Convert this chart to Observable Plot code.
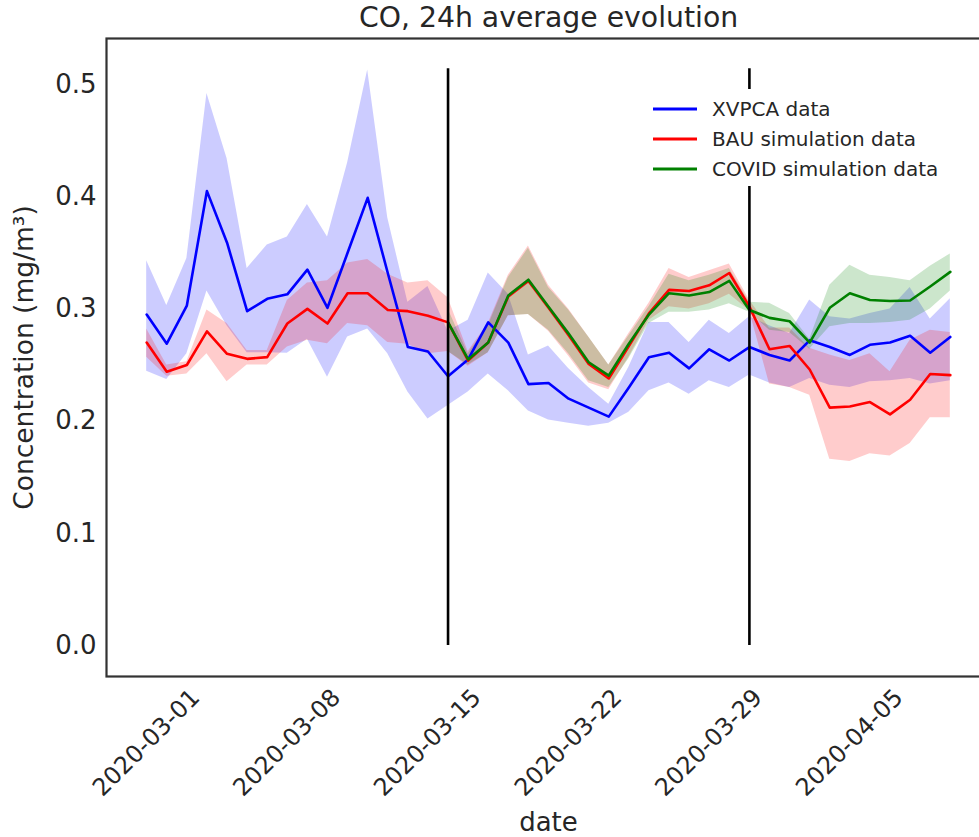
<!DOCTYPE html>
<html><head><meta charset="utf-8">
<script src="https://cdn.jsdelivr.net/npm/d3@7"></script>
<script src="https://cdn.jsdelivr.net/npm/@observablehq/plot@0.6"></script>
<style>
html,body{margin:0;padding:0;background:#fff;overflow:hidden;}
#chart{position:relative;width:979px;height:837px;overflow:hidden;}
</style></head><body><div id="chart"></div>
<script>
const dates = ["2020-03-01","2020-03-02","2020-03-03","2020-03-04","2020-03-05","2020-03-06","2020-03-07","2020-03-08","2020-03-09","2020-03-10",
"2020-03-11","2020-03-12","2020-03-13","2020-03-14","2020-03-15","2020-03-16","2020-03-17","2020-03-18","2020-03-19","2020-03-20",
"2020-03-21","2020-03-22","2020-03-23","2020-03-24","2020-03-25","2020-03-26","2020-03-27","2020-03-28","2020-03-29","2020-03-30",
"2020-03-31","2020-04-01","2020-04-02","2020-04-03","2020-04-04","2020-04-05","2020-04-06","2020-04-07","2020-04-08","2020-04-09","2020-04-10"];

const xvpca = [0.295,0.269,0.303,0.405,0.359,0.298,0.309,0.313,0.335,0.301,
0.350,0.399,0.332,0.266,0.262,0.240,0.255,0.288,0.270,0.233,
0.234,0.220,0.212,0.204,0.230,0.257,0.261,0.247,0.264,0.254,
0.266,0.259,0.254,0.272,0.266,0.259,0.268,0.270,0.276,0.261,0.275];
const xvpcaHigh = [0.343,0.303,0.345,0.492,0.434,0.336,0.357,0.364,0.393,0.364,
0.430,0.513,0.381,0.306,0.320,0.280,0.290,0.332,0.313,0.259,
0.267,0.247,0.230,0.215,0.248,0.288,0.288,0.270,0.290,0.278,
0.293,0.285,0.278,0.308,0.293,0.291,0.296,0.300,0.319,0.291,0.309];
const xvpcaLow = [0.2445,0.237,0.260,0.316,0.285,0.261,0.261,0.2605,0.273,0.239,
0.275,0.282,0.260,0.226,0.202,0.214,0.226,0.242,0.227,0.209,
0.201,0.198,0.1955,0.198,0.208,0.227,0.234,0.224,0.236,0.230,
0.241,0.234,0.230,0.238,0.232,0.230,0.235,0.236,0.238,0.233,0.236];

const bau = [0.270,0.244,0.250,0.280,0.260,0.2555,0.257,0.287,0.300,0.287,
0.314,0.314,0.299,0.298,0.294,0.288,0.254,0.270,0.311,0.325,
0.301,0.2765,0.251,0.238,0.267,0.296,0.317,0.316,0.321,0.332,
0.302,0.264,0.267,0.246,0.212,0.213,0.217,0.206,0.219,0.242,0.241];
const bauHigh = [0.282,0.250,0.253,0.299,0.287,0.263,0.263,0.3075,0.323,0.325,
0.341,0.344,0.331,0.323,0.325,0.310,0.262,0.287,0.330,0.356,
0.321,0.300,0.275,0.250,0.278,0.305,0.336,0.328,0.334,0.340,
0.308,0.283,0.283,0.265,0.259,0.254,0.260,0.244,0.272,0.281,0.279];
const bauLow = [0.257,0.240,0.242,0.260,0.235,0.250,0.250,0.266,0.272,0.269,
0.287,0.285,0.270,0.2685,0.260,0.262,0.249,0.261,0.294,0.295,
0.280,0.258,0.234,0.228,0.257,0.290,0.302,0.300,0.3045,0.313,
0.2985,0.233,0.230,0.223,0.166,0.164,0.171,0.169,0.180,0.203,0.203];

const covid = [null,null,null,null,null,null,null,null,null,null,
null,null,null,null,null,0.288,0.255,0.270,0.312,0.326,
0.302,0.278,0.2525,0.2406,0.269,0.295,0.314,0.312,0.315,0.325,
0.299,0.292,0.289,0.270,0.301,0.314,0.308,0.307,0.3075,0.320,0.333];
const covidHigh = [null,null,null,null,null,null,null,null,null,null,
null,null,null,null,null,0.300,0.260,0.285,0.328,0.354,
0.319,0.299,0.275,0.250,0.276,0.302,0.331,0.325,0.330,0.336,
0.306,0.305,0.296,0.273,0.321,0.339,0.330,0.328,0.325,0.338,0.349];
const covidLow = [null,null,null,null,null,null,null,null,null,null,
null,null,null,null,null,0.262,0.250,0.261,0.294,0.295,
0.281,0.260,0.236,0.230,0.2555,0.287,0.297,0.297,0.299,0.3045,
0.297,0.281,0.279,0.264,0.284,0.287,0.287,0.288,0.290,0.300,0.316];

const xTicks = ["2020-03-01","2020-03-08","2020-03-15","2020-03-22","2020-03-29","2020-04-05"];
const yTicks = [0.0,0.1,0.2,0.3,0.4,0.5];
const eventDates = ["2020-03-16","2020-03-31"];
const eventTop = 0.514;
const seriesNames = ["XVPCA data","BAU simulation data","COVID simulation data"];
const seriesColors = ["#0000ff","#ff0000","#008000"];
const titleText = "CO, 24h average evolution";
const xLabel = "date";
const yLabel = "Concentration (mg/m³)";

const parse = d3.utcParse("%Y-%m-%d");
const rows = dates.map((d,i)=>({date: parse(d),
  b: xvpca[i], bh: xvpcaHigh[i], bl: xvpcaLow[i],
  r: bau[i], rh: bauHigh[i], rl: bauLow[i],
  g: covid[i], gh: covidHigh[i], gl: covidLow[i]}));
const gRows = rows.filter(d => d.g != null);

const xStart = parse(dates[0]), xEnd = parse(dates[dates.length-1]);
const pad = 0.05 * (xEnd - xStart);
const textColor = "#262626";
const lw = 2.6;

const chart = Plot.plot({
  width: 979, height: 837,
  marginLeft: 106, marginRight: -11, marginTop: 38, marginBottom: 161,
  x: {type: "utc", domain: [new Date(+xStart - pad), new Date(+xEnd + pad)], axis: null},
  y: {domain: [-0.0276, 0.541], axis: null},
  style: {fontFamily: "'DejaVu Sans', sans-serif", color: textColor, background: "white", overflow: "hidden"},
  marks: [
    Plot.areaY(rows, {x: "date", y1: "bl", y2: "bh", fill: seriesColors[0], fillOpacity: 0.2}),
    Plot.areaY(rows, {x: "date", y1: "rl", y2: "rh", fill: seriesColors[1], fillOpacity: 0.2}),
    Plot.areaY(gRows, {x: "date", y1: "gl", y2: "gh", fill: seriesColors[2], fillOpacity: 0.2}),
    Plot.lineY(rows, {x: "date", y: "b", stroke: seriesColors[0], strokeWidth: lw}),
    Plot.lineY(rows, {x: "date", y: "r", stroke: seriesColors[1], strokeWidth: lw}),
    Plot.lineY(gRows, {x: "date", y: "g", stroke: seriesColors[2], strokeWidth: lw}),
    Plot.ruleX(eventDates.map(parse), {y1: 0, y2: eventTop, stroke: "black", strokeWidth: lw}),
    Plot.frame({stroke: "#333333", strokeWidth: 2.2}),
    Plot.axisY(yTicks, {tickSize: 0, tickPadding: 10, tickFormat: d3.format(".1f"), fontSize: 26, label: null, fill: textColor}),
    Plot.text(xTicks.map(parse), {x: d => d, text: d3.utcFormat("%Y-%m-%d"), frameAnchor: "bottom",
      rotate: -45, textAnchor: "end", lineAnchor: "middle", dx: 49, dy: 17, fontSize: 24, fill: textColor}),
    Plot.text([titleText], {text: d => d, frameAnchor: "top", lineAnchor: "middle", dy: -21, fontSize: 28.3, fill: textColor}),
    Plot.text([xLabel], {text: d => d, frameAnchor: "bottom", lineAnchor: "middle", dy: 146, fontSize: 26, fill: textColor}),
    Plot.text([yLabel], {text: d => d, frameAnchor: "left", rotate: -90, textAnchor: "middle", lineAnchor: "middle", dx: -82, fontSize: 26.5, fill: textColor})
  ]
});
document.getElementById("chart").appendChild(chart);

// legend (white box, as in the reference)
const svg = d3.select(chart);
const lg = svg.append("g").attr("font-family", "'DejaVu Sans', sans-serif").attr("font-size", 20).attr("text-anchor", "start");
lg.append("rect").attr("x", 641).attr("y", 89).attr("width", 312).attr("height", 97).attr("fill", "white");
seriesNames.forEach((name, i) => {
  const y = 109 + i * 30;
  lg.append("line").attr("x1", 653).attr("x2", 697).attr("y1", y).attr("y2", y)
    .attr("stroke", seriesColors[i]).attr("stroke-width", 2.8);
  lg.append("text").attr("x", 712).attr("y", y).attr("dy", "0.35em").attr("fill", textColor).text(name);
});
</script></body></html>
